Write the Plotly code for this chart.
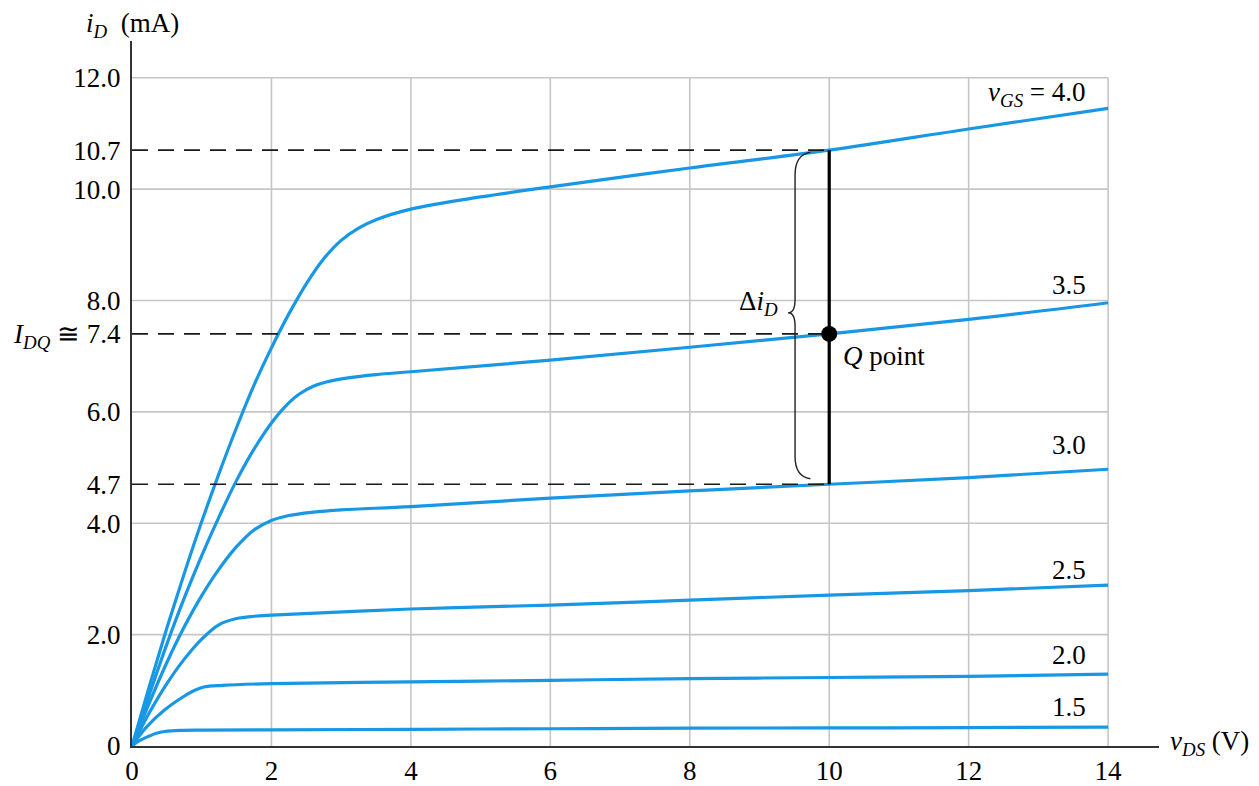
import plotly.graph_objects as go

# ---------------- data ----------------
vds_15 = [0, 0.1, 0.23, 0.35, 0.47, 0.7, 1.0, 2, 4, 6, 8, 10, 12, 14]
id_15 = [0, 0.09, 0.17, 0.23, 0.26, 0.28, 0.285, 0.29, 0.30, 0.31, 0.32, 0.325, 0.33, 0.34]

vds_20 = [0, 0.2, 0.47, 0.73, 0.9, 1.03, 1.3, 2, 4, 6, 8, 10, 12, 14]
id_20 = [0, 0.33, 0.65, 0.88, 1.0, 1.06, 1.09, 1.12, 1.15, 1.18, 1.21, 1.23, 1.25, 1.29]

vds_25 = [0, 0.25, 0.5, 0.75, 1.0, 1.25, 1.5, 1.75, 2, 4, 6, 8, 10, 12, 14]
id_25 = [0, 0.6, 1.12, 1.56, 1.92, 2.18, 2.29, 2.33, 2.35, 2.46, 2.53, 2.62, 2.71, 2.79, 2.89]

vds_30 = [0, 0.25, 0.5, 0.75, 1.0, 1.25, 1.5, 1.75, 2.0, 2.25, 2.6, 3, 4, 6, 8, 10, 12, 14]
id_30 = [0, 0.78, 1.5, 2.14, 2.7, 3.18, 3.58, 3.88, 4.05, 4.14, 4.2, 4.24, 4.3, 4.45, 4.58, 4.7, 4.82, 4.97]

vds_35 = [0, 0.25, 0.5, 0.75, 1.0, 1.25, 1.5, 1.75, 2.0, 2.2, 2.4, 2.6, 2.8, 3.1, 3.5, 4, 6, 8, 10, 12, 14]
id_35 = [0, 0.93, 1.83, 2.66, 3.42, 4.12, 4.77, 5.33, 5.8, 6.1, 6.32, 6.46, 6.54, 6.61, 6.67, 6.72, 6.93, 7.16, 7.4, 7.66, 7.96]

vds_40 = [0, 0.25, 0.5, 0.75, 1.0, 1.25, 1.5, 1.75, 2.0, 2.25, 2.5, 2.75, 3.0, 3.25, 3.5, 4.0, 5, 6, 8, 10, 12, 14]
id_40 = [0, 1.08, 2.12, 3.1, 4.03, 4.9, 5.72, 6.48, 7.15, 7.76, 8.3, 8.75, 9.08, 9.3, 9.45, 9.64, 9.86, 10.04, 10.38, 10.7, 11.08, 11.45]

curve_labels = ["<i>v</i><sub><i>GS</i></sub> = 4.0", "3.5", "3.0", "2.5", "2.0", "1.5"]
curve_label_y = [11.7, 8.28, 5.4, 3.16, 1.63, 0.70]
curve_label_x = 13.71

# Q-point analysis
q_vds = 10
q_id = 7.4
id_high = 10.7
id_low = 4.7

x_tick_vals = [0, 2, 4, 6, 8, 10, 12, 14]
x_tick_text = ["0", "2", "4", "6", "8", "10", "12", "14"]
y_tick_vals = [0, 2, 4, 4.7, 6, 7.4, 8, 10, 10.7, 12]
y_tick_text = ["0", "2.0", "4.0", "4.7", "6.0",
               "<i>I</i><sub><i>DQ</i></sub> ≅ 7.4", "8.0", "10.0", "10.7", "12.0"]
grid_x = [2, 4, 6, 8, 10, 12, 14]
grid_y = [2, 4, 6, 8, 10, 12]
grid_x_max = 14
grid_y_max = 12

# ---------------- styling ----------------
BLUE = "#1898e4"
FONT = "Liberation Serif"
FS = 27

fig = go.Figure()

for xs, ys in [(vds_15, id_15), (vds_20, id_20), (vds_25, id_25),
               (vds_30, id_30), (vds_35, id_35), (vds_40, id_40)]:
    fig.add_trace(go.Scatter(x=xs, y=ys, mode="lines",
                             line=dict(color=BLUE, width=3.2, shape="spline", smoothing=1.0),
                             hoverinfo="skip", showlegend=False))

# dashed reference lines
for lvl in [id_high, q_id, id_low]:
    fig.add_trace(go.Scatter(x=[0, q_vds], y=[lvl, lvl], mode="lines",
                             line=dict(color="#1a1a1a", width=1.7, dash="16px,10px"),
                             hoverinfo="skip", showlegend=False))

# thick vertical line for delta i_D
fig.add_trace(go.Scatter(x=[q_vds, q_vds], y=[id_low, id_high], mode="lines",
                         line=dict(color="black", width=3.2),
                         hoverinfo="skip", showlegend=False))
# Q point
fig.add_trace(go.Scatter(x=[q_vds], y=[q_id], mode="markers",
                         marker=dict(color="black", size=16),
                         hoverinfo="skip", showlegend=False))

# gridlines (bounded at 14 / 12)
shapes = []
for gx in grid_x:
    shapes.append(dict(type="line", xref="x", yref="y", x0=gx, x1=gx, y0=0, y1=grid_y_max,
                       line=dict(color="#c6c6c6", width=1.6), layer="below"))
for gy in grid_y:
    shapes.append(dict(type="line", xref="x", yref="y", x0=0, x1=grid_x_max, y0=gy, y1=gy,
                       line=dict(color="#c6c6c6", width=1.6), layer="below"))

# curly brace
bx = q_vds - 0.49
tip = q_vds - 0.59
end = q_vds - 0.27
mid = (id_high + id_low) / 2 + 0.08
path = (f"M {end},{id_high - 0.04} Q {bx},{id_high - 0.08} {bx},{id_high - 0.45} "
        f"L {bx},{mid + 0.24} Q {bx},{mid} {tip},{mid} "
        f"Q {bx},{mid} {bx},{mid - 0.24} "
        f"L {bx},{id_low + 0.5} Q {bx},{id_low + 0.14} {end},{id_low + 0.1}")
shapes.append(dict(type="path", xref="x", yref="y", path=path,
                   line=dict(color="#222", width=1.4)))

annotations = []
for txt, ly in zip(curve_labels, curve_label_y):
    annotations.append(dict(x=curve_label_x, y=ly, xref="x", yref="y", text=txt,
                            showarrow=False, xanchor="right", yanchor="middle",
                            font=dict(family=FONT, size=FS, color="black")))
annotations.append(dict(x=q_vds + 0.17, y=q_id - 0.4, xref="x", yref="y",
                        text="<i>Q</i> point", showarrow=False, xanchor="left",
                        yanchor="middle", font=dict(family=FONT, size=FS, color="black")))
annotations.append(dict(x=9.29, y=7.95, xref="x", yref="y",
                        text="Δ<i>i</i><sub><i>D</i></sub>", showarrow=False, xanchor="right",
                        yanchor="middle", font=dict(family=FONT, size=FS, color="black")))
annotations.append(dict(x=0.0, y=1.0496, xref="paper", yref="paper",
                        text="<i>i</i><sub><i>D</i></sub>  (mA)", showarrow=False,
                        xanchor="center", yanchor="top",
                        font=dict(family=FONT, size=FS, color="black")))
annotations.append(dict(x=1.0088, y=0.004, xref="paper", yref="paper",
                        text="<i>v</i><sub><i>DS</i></sub> (V)", showarrow=False,
                        xanchor="left", yanchor="middle",
                        font=dict(family=FONT, size=FS, color="black")))

fig.update_layout(
    width=1251, height=778,
    margin=dict(l=124, r=100, t=33, b=40, autoexpand=False),
    paper_bgcolor="white", plot_bgcolor="white",
    shapes=shapes, annotations=annotations,
    font=dict(family=FONT, size=FS, color="black"),
    xaxis=dict(range=[0, 14.73], showgrid=False, zeroline=False, automargin=False,
               showline=True, linecolor="#333", linewidth=2,
               tickvals=x_tick_vals, ticktext=x_tick_text, ticks="",
               ticklabelstandoff=0, tickfont=dict(family=FONT, size=FS, color="black")),
    yaxis=dict(range=[0, 12.66], showgrid=False, zeroline=False, automargin=False,
               showline=True, linecolor="#333", linewidth=2,
               tickvals=y_tick_vals, ticktext=y_tick_text, ticks="",
               ticklabelstandoff=4, tickfont=dict(family=FONT, size=FS, color="black")),
)

fig.write_html("out.html")
